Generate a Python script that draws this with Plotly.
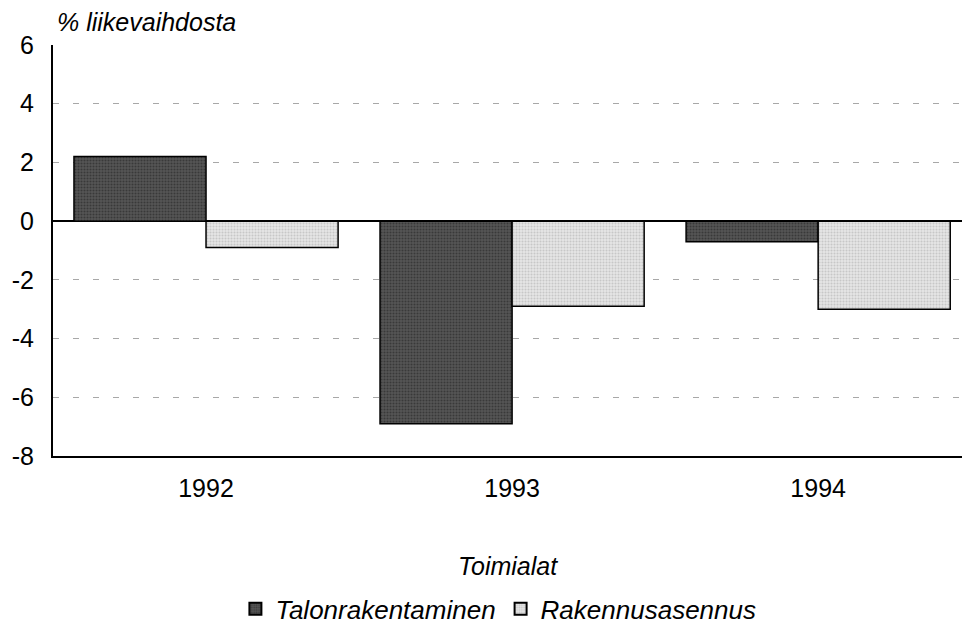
import plotly.graph_objects as go

years = ["1992", "1993", "1994"]
talonrakentaminen = [2.2, -6.9, -0.7]
rakennusasennus = [-0.9, -2.9, -3.0]
y_ticks = [6, 4, 2, 0, -2, -4, -6, -8]
y_tick_labels = ["6", "4", "2", "0", "-2", "-4", "-6", "-8"]

FONT = "Liberation Sans, Arial, sans-serif"

fig = go.Figure()
fig.add_trace(go.Bar(
    x=years, y=talonrakentaminen, name="Talonrakentaminen",
    marker=dict(color="#3c3c3c", line=dict(color="black", width=1.5),
                pattern=dict(shape=".", fgcolor="#1e1e1e", bgcolor="#555555", size=3, solidity=0.4)),
))
fig.add_trace(go.Bar(
    x=years, y=rakennusasennus, name="Rakennusasennus",
    marker=dict(color="#d2d2d2", line=dict(color="black", width=1.5),
                pattern=dict(shape=".", fgcolor="#a8a8a8", bgcolor="#e6e6e6", size=3, solidity=0.4)),
))

fig.update_layout(
    width=962, height=627,
    margin=dict(l=53, r=0, t=45, b=171, autoexpand=False),
    paper_bgcolor="white", plot_bgcolor="white",
    barmode="group", bargap=0.137, bargroupgap=0,
    font=dict(family=FONT, size=25, color="black"),
    showlegend=True,
    legend=dict(orientation="h", x=0.49, xanchor="center", y=-0.372, yanchor="middle",
                font=dict(family=FONT, size=26, style="italic"),
                itemsizing="constant", traceorder="normal", tracegroupgap=0),
    xaxis=dict(range=[-0.5, 2.47], showgrid=False, showline=True, linecolor="black",
               linewidth=2, ticks="", ticklabelstandoff=9, automargin=False,
               tickfont=dict(family=FONT, size=25)),
    yaxis=dict(range=[-8, 6], tickvals=y_ticks, ticktext=y_tick_labels, showgrid=True,
               gridcolor="#a8a8a8", griddash="6px,14px", gridwidth=1, zeroline=True,
               zerolinecolor="black", zerolinewidth=2, showline=True, linecolor="black",
               linewidth=2, ticks="", ticklabelstandoff=12, automargin=False,
               tickfont=dict(family=FONT, size=25)),
    annotations=[
        dict(text="% liikevaihdosta", x=0, xref="paper", xanchor="left", xshift=2,
             y=1, yref="paper", yanchor="middle", yshift=23, showarrow=False,
             font=dict(family=FONT, size=25, style="italic")),
        dict(text="Toimialat", x=0.5, xref="paper", xanchor="center",
             y=0, yref="paper", yanchor="middle", yshift=-110, showarrow=False,
             font=dict(family=FONT, size=25, style="italic")),
    ],
)

fig.write_html("out.html", config={"displayModeBar": False},
               post_script="document.body.style.margin='0';document.body.style.overflow='hidden';")
